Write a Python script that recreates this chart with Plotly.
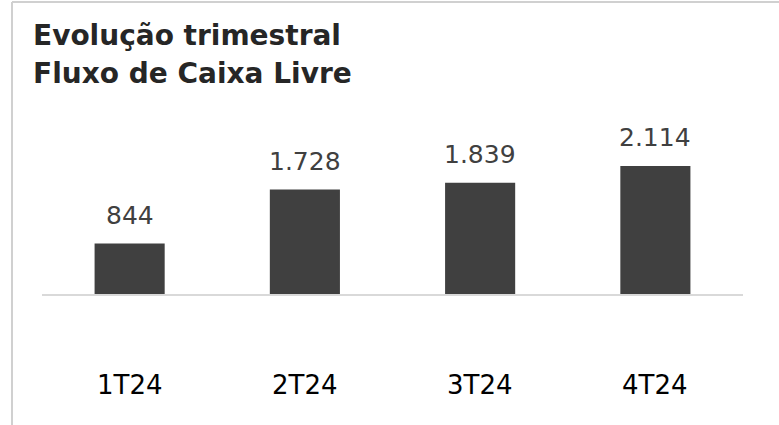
import plotly.graph_objects as go

categories = ["1T24", "2T24", "3T24", "4T24"]
values = [844, 1728, 1839, 2114]
value_labels = ["844", "1.728", "1.839", "2.114"]
title_lines = ["Evolução trimestral", "Fluxo de Caixa Livre"]

W, H = 779, 425
L, R, T, B = 42, 36, 100, 130
pw, ph = W - L - R, H - T - B

def px_x(x):
    return (x - L) / pw

def px_y(y):
    return (H - B - y) / ph

fig = go.Figure(go.Bar(
    x=categories, y=values, width=0.4,
    marker=dict(color="#404040", line=dict(width=0)),
    hoverinfo="skip",
))

ann = []
for c, v, t in zip(categories, values, value_labels):
    ann.append(dict(x=c, y=v, xref="x", yref="y", text=t, showarrow=False,
                    yanchor="bottom", yshift=12,
                    font=dict(family="DejaVu Sans", size=25, color="#404040")))
    ann.append(dict(x=c, y=px_y(385), xref="x", yref="paper", text=c, showarrow=False,
                    yanchor="middle",
                    font=dict(family="DejaVu Sans", size=26, color="#000000")))
for i, line in enumerate(title_lines):
    ann.append(dict(x=px_x(31), y=px_y(35 + 38 * i), xref="paper", yref="paper",
                    text="<b>" + line + "</b>", showarrow=False,
                    xanchor="left", yanchor="middle",
                    font=dict(family="DejaVu Sans", size=28, color="#262626")))

shapes = [
    dict(type="line", xref="paper", yref="paper", x0=px_x(12), x1=px_x(779), y0=px_y(2), y1=px_y(2),
         line=dict(color="#d0d0d0", width=2)),
    dict(type="line", xref="paper", yref="paper", x0=px_x(12), x1=px_x(12), y0=px_y(2), y1=px_y(425),
         line=dict(color="#d0d0d0", width=2)),
    dict(type="line", xref="paper", yref="paper", x0=0, x1=1, y0=0, y1=0,
         line=dict(color="#d9d9d9", width=2)),
]

fig.update_layout(
    width=W, height=H,
    margin=dict(l=L, r=R, t=T, b=B),
    paper_bgcolor="white", plot_bgcolor="white",
    showlegend=False,
    bargap=0.6,
    xaxis=dict(showticklabels=False, showgrid=False, zeroline=False, showline=False),
    yaxis=dict(range=[0, ph / 0.061], visible=False),
    annotations=ann, shapes=shapes,
)

fig.write_html("out.html", config={"displayModeBar": False},
               post_script="document.body.style.margin='0';document.body.style.overflow='hidden';")
